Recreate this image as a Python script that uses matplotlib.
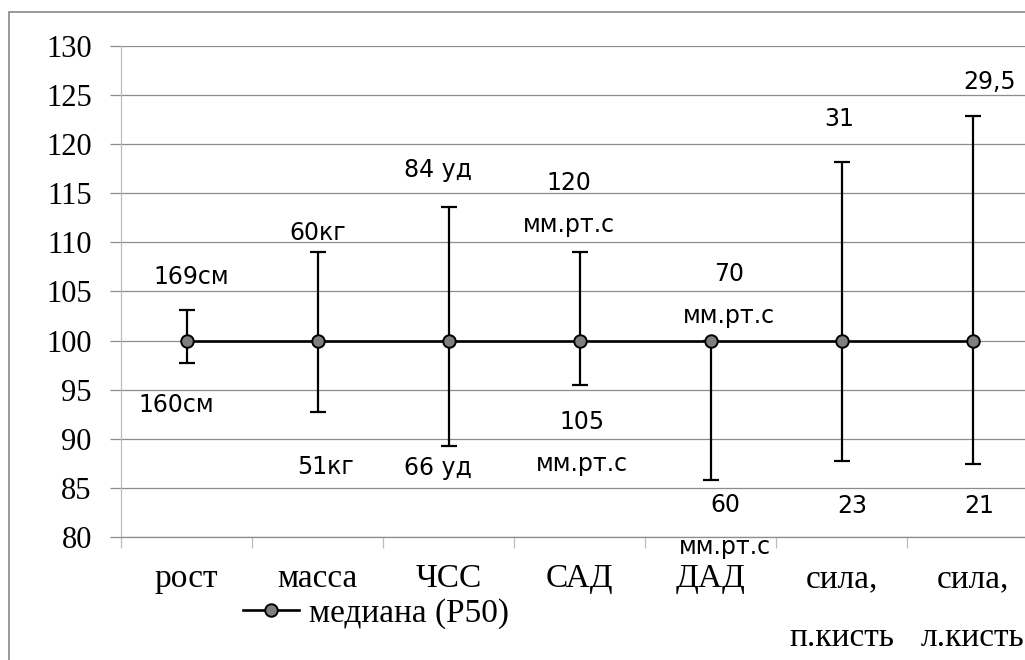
import matplotlib.pyplot as plt
from matplotlib.patches import Rectangle
import numpy as np

# Data
categories = ['рост', 'масса', 'ЧСС', 'САД', 'ДАД', 'сила,\nп.кисть', 'сила,\nл.кисть']
median = [100, 100, 100, 100, 100, 100, 100]
upper = [103.1, 109.0, 113.6, 109.0, 100.0, 118.2, 122.9]
lower = [97.7, 92.7, 89.3, 95.5, 85.8, 87.7, 87.4]
upper_labels = ['169см', '60кг', '84 уд', '120\nмм.рт.с', '70\nмм.рт.с', '31', '29,5']
lower_labels = ['160см', '51кг', '66 уд', '105\nмм.рт.с', '60\nмм.рт.с', '23', '21']

# label placement (offset from category in x, y position in data units)
upper_dx = [0.04, 0.0, -0.08, -0.08, 0.14, -0.02, 0.13]
upper_y = [106.5, 111.0, 117.4, 113.9, 104.6, 122.6, 126.3]
lower_dx = [-0.08, 0.06, -0.08, 0.02, 0.11, 0.08, 0.05]
lower_y = [93.4, 87.1, 87.0, 89.6, 81.1, 83.2, 83.2]

serif = 'Liberation Serif'
sans = 'DejaVu Sans'
grid_c = '#8c8c8c'
light_c = '#bdbdbd'

fig = plt.figure(figsize=(10.25, 6.6), dpi=100)
ax = fig.add_axes([121 / 1025, 1 - 537 / 660, 917 / 1025, 491 / 660])

x = np.arange(len(categories))
yerr = [np.array(median) - np.array(lower), np.array(upper) - np.array(median)]
ax.errorbar(x, median, yerr=yerr, fmt='none', ecolor='black', elinewidth=1.6,
            capsize=6, capthick=1.6, zorder=3)
ax.plot(x, median, color='black', linewidth=1.9, marker='o', markersize=9,
        markerfacecolor='#7f7f7f', markeredgecolor='black', markeredgewidth=1.4,
        label='медиана (P50)', zorder=4)

for i in range(len(categories)):
    ax.text(x[i] + upper_dx[i], upper_y[i], upper_labels[i], ha='center', va='center',
            fontsize=17, family=sans, linespacing=1.95, clip_on=False)
    ax.text(x[i] + lower_dx[i], lower_y[i], lower_labels[i], ha='center', va='center',
            fontsize=17, family=sans, linespacing=1.95, clip_on=False)

ax.set_xlim(-0.5, len(categories) - 0.5)
ax.set_ylim(80, 130)
ax.set_yticks(np.arange(80, 131, 5))
ax.yaxis.grid(True, color=grid_c, linewidth=0.9)
ax.set_axisbelow(True)

# category boundaries as major ticks, names on minor ticks
ax.set_xticks(np.arange(-0.5, len(categories), 1.0))
ax.set_xticklabels([])
ax.set_xticks(x, minor=True)
ax.set_xticklabels(categories, minor=True, fontsize=24, family=serif, linespacing=2.2)
ax.tick_params(axis='x', which='major', length=8, color=light_c, width=0.9)
ax.tick_params(axis='x', which='minor', length=0, pad=19)
ax.tick_params(axis='y', length=8, color=grid_c, width=0.9, pad=13)
for lab in ax.get_yticklabels():
    lab.set_fontsize(22)
    lab.set_family(serif)

ax.spines['top'].set_visible(False)
ax.spines['right'].set_visible(False)
ax.spines['left'].set_color(light_c)
ax.spines['left'].set_linewidth(0.9)
ax.spines['bottom'].set_color(grid_c)
ax.spines['bottom'].set_linewidth(0.9)

fig.legend(loc='center', bbox_to_anchor=(376 / 1025, 1 - 614 / 660), frameon=False,
           prop={'family': serif, 'size': 24}, handlelength=1.7, handletextpad=0.3,
           borderpad=0)

# outer chart border
fig.patches.append(Rectangle((9 / 1025, -0.2), 1.2, 1.2 - 12 / 660, transform=fig.transFigure,
                             fill=False, edgecolor='#878787', linewidth=1.2))

fig.savefig('out.png', dpi=100)
